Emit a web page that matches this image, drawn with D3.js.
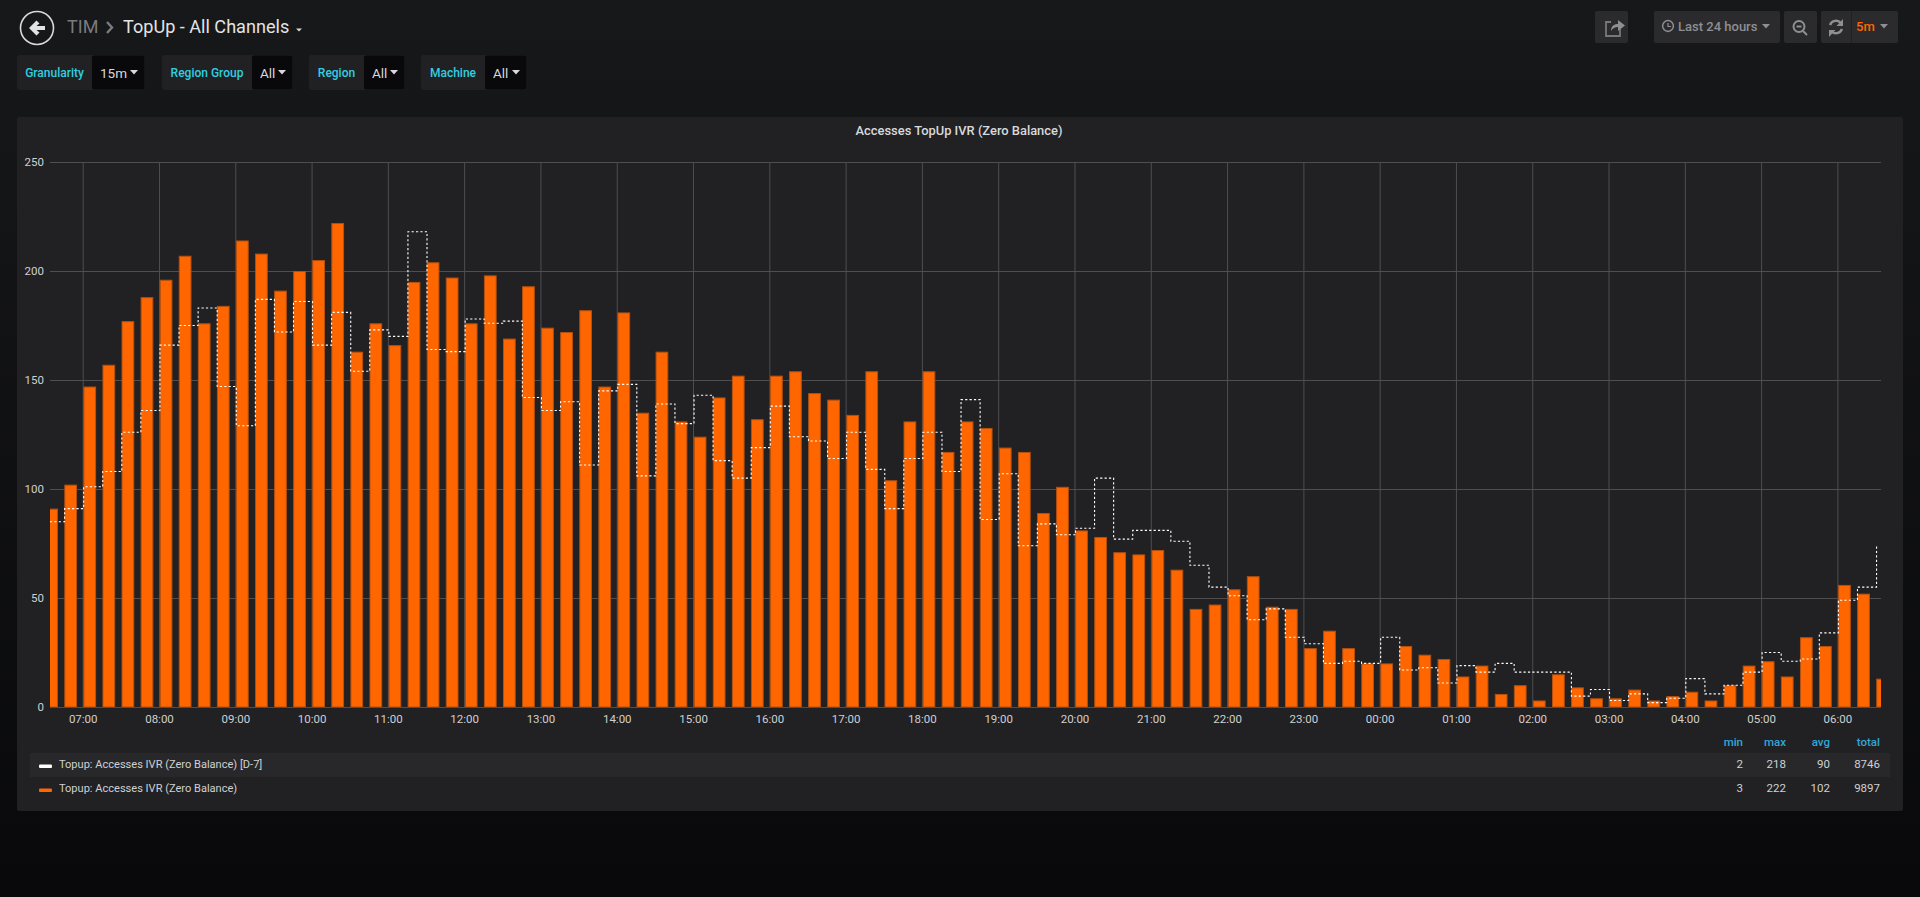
<!DOCTYPE html>
<html>
<head>
<meta charset="utf-8">
<title>TopUp - All Channels</title>
<script src="https://cdn.jsdelivr.net/npm/d3@7"></script>
<style>
  html, body { margin: 0; padding: 0; background: #0b0c0e; overflow: hidden; }
  svg { display: block; font-family: Roboto, sans-serif; }
  .tick text { font-family: Roboto, sans-serif; }
</style>
</head>
<body>
<div id="my_dataviz"></div>
<script>
// 15 minute buckets, first bucket is 06:30
const current = [91, 102, 147, 157, 177, 188, 196, 207, 176, 184, 214, 208, 191, 200, 205, 222,
    163, 176, 166, 195, 204, 197, 176, 198, 169, 193, 174, 172, 182, 147, 181, 135,
    163, 131, 124, 142, 152, 132, 152, 154, 144, 141, 134, 154, 104, 131, 154, 117,
    131, 128, 119, 117, 89, 101, 81, 78, 71, 70, 72, 63, 45, 47, 54, 60,
    46, 45, 27, 35, 27, 20, 20, 28, 24, 22, 14, 19, 6, 10, 3, 15,
    9, 4, 4, 8, 3, 5, 7, 3, 10, 19, 21, 14, 32, 28, 56, 52, 13];
const previous = [85, 91, 101, 108, 126, 136, 166, 175, 183, 147, 129, 187, 172, 186, 166, 181,
    154, 173, 170, 218, 164, 163, 178, 176, 177, 142, 136, 140, 111, 145, 148, 106,
    139, 130, 143, 113, 105, 119, 138, 124, 122, 114, 126, 109, 91, 114, 126, 108,
    141, 86, 107, 74, 84, 79, 82, 105, 77, 81, 81, 76, 65, 55, 51, 40,
    45, 32, 29, 20, 21, 20, 32, 17, 18, 11, 19, 16, 20, 16, 16, 16,
    5, 8, 3, 6, 2, 4, 13, 6, 10, 16, 25, 21, 22, 34, 49, 55, 74];
const yTicks = [0, 50, 100, 150, 200, 250];
const seriesNames = ["Topup: Accesses IVR (Zero Balance) [D-7]", "Topup: Accesses IVR (Zero Balance)"];
const seriesColors = ["#ffffff", "#ff6600"];
const statHeaders = ["min", "max", "avg", "total"];
const statRows = [["2", "218", "90", "8746"], ["3", "222", "102", "9897"]];
const filters = [
    { label: "Granularity", value: "15m", x0: 17, x1: 92, x2: 145 },
    { label: "Region Group", value: "All", x0: 162, x1: 252, x2: 293 },
    { label: "Region", value: "All", x0: 309, x1: 364, x2: 405 },
    { label: "Machine", value: "All", x0: 421, x1: 485, x2: 527 }
];

const W = 1920, H = 897;
const plot = { left: 50, right: 1881, top: 162, bottom: 707 };

const svg = d3.select("#my_dataviz").append("svg")
    .attr("width", W)
    .attr("height", H);

const defs = svg.append("defs");
const bg = defs.append("linearGradient").attr("id", "pagebg")
    .attr("x1", 0).attr("y1", 0).attr("x2", 0).attr("y2", 1);
bg.append("stop").attr("offset", "0%").attr("stop-color", "#17181a");
bg.append("stop").attr("offset", "100%").attr("stop-color", "#09090b");
defs.append("clipPath").attr("id", "plotclip").append("rect")
    .attr("x", plot.left).attr("y", plot.top - 5)
    .attr("width", plot.right - plot.left).attr("height", plot.bottom - plot.top + 5);

svg.append("rect").attr("width", W).attr("height", H).attr("fill", "url(#pagebg)");

// ----------------
// Header
// ----------------
const header = svg.append("g");
header.append("circle").attr("cx", 37).attr("cy", 28).attr("r", 16.5)
    .attr("fill", "none").attr("stroke", "#d8d9da").attr("stroke-width", 1.6);
header.append("path")
    .attr("d", "M29 28 L36.5 20.5 L39.5 23.5 L36.5 26 L45 26 L45 30 L36.5 30 L39.5 32.5 L36.5 35.5 Z")
    .attr("fill", "#e3e3e4");
header.append("text").attr("x", 67).attr("y", 33).attr("font-size", 18)
    .attr("fill", "#7b7b7e").text("TIM");
header.append("path").attr("d", "M107 22 L112 27.5 L107 33")
    .attr("fill", "none").attr("stroke", "#7b7b7e").attr("stroke-width", 2.4);
header.append("text").attr("x", 123).attr("y", 33).attr("font-size", 18.1)
    .attr("fill", "#e3e3e4").text("TopUp - All Channels");
header.append("path").attr("d", "M296 28.5 L302 28.5 L299 31.5 Z").attr("fill", "#d8d9da");

// template variable boxes
filters.forEach(function (f) {
    const g = svg.append("g");
    g.append("rect").attr("x", f.x0).attr("y", 55).attr("width", f.x2 - f.x0).attr("height", 35)
        .attr("rx", 3).attr("fill", "#212124");
    g.append("rect").attr("x", f.x1).attr("y", 55.5).attr("width", f.x2 - f.x1 - 0.5).attr("height", 34)
        .attr("rx", 2).attr("fill", "#09090b");
    g.append("text").attr("x", (f.x0 + f.x1) / 2).attr("y", 77).attr("text-anchor", "middle")
        .attr("font-size", 12).attr("font-weight", 500).attr("fill", "#30cfe0").text(f.label);
    g.append("text").attr("x", f.x1 + 8).attr("y", 78)
        .attr("font-size", 13.5).attr("fill", "#d8d9da").text(f.value);
    g.append("path")
        .attr("d", `M${f.x2 - 15} 70 L${f.x2 - 7} 70 L${f.x2 - 11} 74.5 Z`)
        .attr("fill", "#d8d9da");
});

// top right buttons
function button(x0, x1) {
    svg.append("rect").attr("x", x0).attr("y", 11).attr("width", x1 - x0).attr("height", 32)
        .attr("rx", 2).attr("fill", "#2b2b2e");
}
button(1595, 1628);
button(1654, 1780);
button(1784, 1817);
button(1821, 1898);
svg.append("line").attr("x1", 1851.5).attr("x2", 1851.5).attr("y1", 11).attr("y2", 43)
    .attr("stroke", "#212124");
// share icon
svg.append("path").attr("d", "M1620 27 L1620 36 L1606 36 L1606 22 L1611 22")
    .attr("fill", "none").attr("stroke", "#77787b").attr("stroke-width", 1.8);
svg.append("path").attr("d", "M1611 31 C1611 25 1615 24 1618 24 L1618 20 L1625 25.5 L1618 31 L1618 27 C1615 27 1613 28 1611 31 Z")
    .attr("fill", "#8e8f92");
// clock
svg.append("circle").attr("cx", 1668).attr("cy", 26).attr("r", 5.4)
    .attr("fill", "none").attr("stroke", "#8e8f92").attr("stroke-width", 1.5);
svg.append("path").attr("d", "M1668 23 L1668 26.5 L1671 26.5").attr("fill", "none")
    .attr("stroke", "#8e8f92").attr("stroke-width", 1.2);
svg.append("text").attr("x", 1678).attr("y", 31).attr("font-size", 13).attr("font-weight", 500)
    .attr("fill", "#8e8f92").text("Last 24 hours");
svg.append("path").attr("d", "M1762 24 L1770 24 L1766 28.5 Z").attr("fill", "#8e8f92");
// zoom out
svg.append("circle").attr("cx", 1799).attr("cy", 26.5).attr("r", 5.5)
    .attr("fill", "none").attr("stroke", "#8e8f92").attr("stroke-width", 2);
svg.append("path").attr("d", "M1796.5 26.5 L1801.5 26.5 M1803 31 L1807 35").attr("fill", "none")
    .attr("stroke", "#8e8f92").attr("stroke-width", 2);
// refresh
svg.append("path").attr("d", "M1830 25 A6.5 6.5 0 0 1 1841 23 M1842 29 A6.5 6.5 0 0 1 1831 31").attr("fill", "none")
    .attr("stroke", "#8e8f92").attr("stroke-width", 2.4);
svg.append("path").attr("d", "M1843 19 L1843 26 L1836.5 26 Z M1829 37 L1829 30 L1835.5 30 Z").attr("fill", "#8e8f92");
svg.append("text").attr("x", 1856).attr("y", 31).attr("font-size", 13).attr("font-weight", 500)
    .attr("fill", "#ff6600").text("5m");
svg.append("path").attr("d", "M1880 24 L1888 24 L1884 28.5 Z").attr("fill", "#8e8f92");

// ----------------
// Panel
// ----------------
svg.append("rect").attr("x", 17).attr("y", 117).attr("width", 1886).attr("height", 694)
    .attr("rx", 2).attr("fill", "#212124");
svg.append("text").attr("x", 959).attr("y", 135).attr("text-anchor", "middle")
    .attr("font-size", 12.9).attr("font-weight", 500).attr("fill", "#d8d9da")
    .text("Accesses TopUp IVR (Zero Balance)");

const startTime = new Date(2018, 0, 1, 6, 30);
const times = current.map((d, i) => d3.timeMinute.offset(startTime, i * 15));
const bucketMs = 15 * 60 * 1000;

// 24 hours on the x axis
const x = d3.scaleTime()
    .domain([new Date(2018, 0, 1, 6, 33, 30), new Date(2018, 0, 2, 6, 33, 30)])
    .range([plot.left, plot.right]);
const y = d3.scaleLinear()
    .domain([0, 250])
    .range([plot.bottom, plot.top]);

const gridColor = "#4e4e51";

const xAxis = svg.append("g")
    .attr("transform", `translate(-1, ${plot.bottom})`)
    .call(d3.axisBottom(x)
        .ticks(d3.timeHour.every(1))
        .tickFormat(d3.timeFormat("%H:%M"))
        .tickSize(-(plot.bottom - plot.top))
        .tickPadding(8));
xAxis.select(".domain").remove();
xAxis.selectAll("line").attr("stroke", gridColor);
xAxis.selectAll("text").attr("fill", "#d0d0d1").attr("font-size", 11.5);

const yAxis = svg.append("g")
    .attr("transform", `translate(${plot.left}, 0)`)
    .call(d3.axisLeft(y)
        .tickValues(yTicks)
        .tickSize(-(plot.right - plot.left))
        .tickPadding(6));
yAxis.select(".domain").remove();
yAxis.selectAll("line").attr("stroke", gridColor);
yAxis.selectAll("text").attr("fill", "#d0d0d1").attr("font-size", 11.5);

const marks = svg.append("g").attr("clip-path", "url(#plotclip)");

const barW = x(new Date(startTime.getTime() + bucketMs * 2 / 3)) - x(startTime);
marks.selectAll("rect.bar")
    .data(current)
    .enter()
    .append("rect")
    .attr("class", "bar")
    .attr("x", (d, i) => x(times[i]) + 0.2)
    .attr("y", d => y(d) + 0.5)
    .attr("width", barW - 1)
    .attr("height", d => y(0) - y(d) - 0.5)
    .attr("fill", "#ff6600")
    .attr("stroke", "#b5500f")
    .attr("stroke-width", 1);

const line = d3.line()
    .x((d, i) => x(times[i]))
    .y(d => y(d))
    .curve(d3.curveStepAfter);
marks.append("path")
    .datum(previous)
    .attr("d", line)
    .attr("fill", "none")
    .attr("stroke", "#ffffff")
    .attr("stroke-width", 1.1)
    .attr("stroke-dasharray", "2.2,2.2");

// ----------------
// Legend
// ----------------
const statX = [1743, 1786, 1830, 1880];
statHeaders.forEach(function (h, i) {
    svg.append("text").attr("x", statX[i]).attr("y", 746).attr("text-anchor", "end")
        .attr("font-size", 11.5).attr("font-weight", 500).attr("fill", "#31a7d9").text(h);
});
svg.append("rect").attr("x", 30).attr("y", 753).attr("width", 1860).attr("height", 24)
    .attr("fill", "#28282b");
seriesNames.forEach(function (name, r) {
    const cy = 763 + r * 24;
    svg.append("rect").attr("x", 39).attr("y", cy + 1.5).attr("width", 13).attr("height", 3.5)
        .attr("rx", 1).attr("fill", seriesColors[r]);
    svg.append("text").attr("x", 59).attr("y", cy + 5).attr("font-size", 11.05)
        .attr("fill", "#d0d0d1").text(name);
    statRows[r].forEach(function (v, i) {
        svg.append("text").attr("x", statX[i]).attr("y", cy + 5).attr("text-anchor", "end")
            .attr("font-size", 11.5).attr("fill", "#d0d0d1").text(v);
    });
});
</script>
</body>
</html>
